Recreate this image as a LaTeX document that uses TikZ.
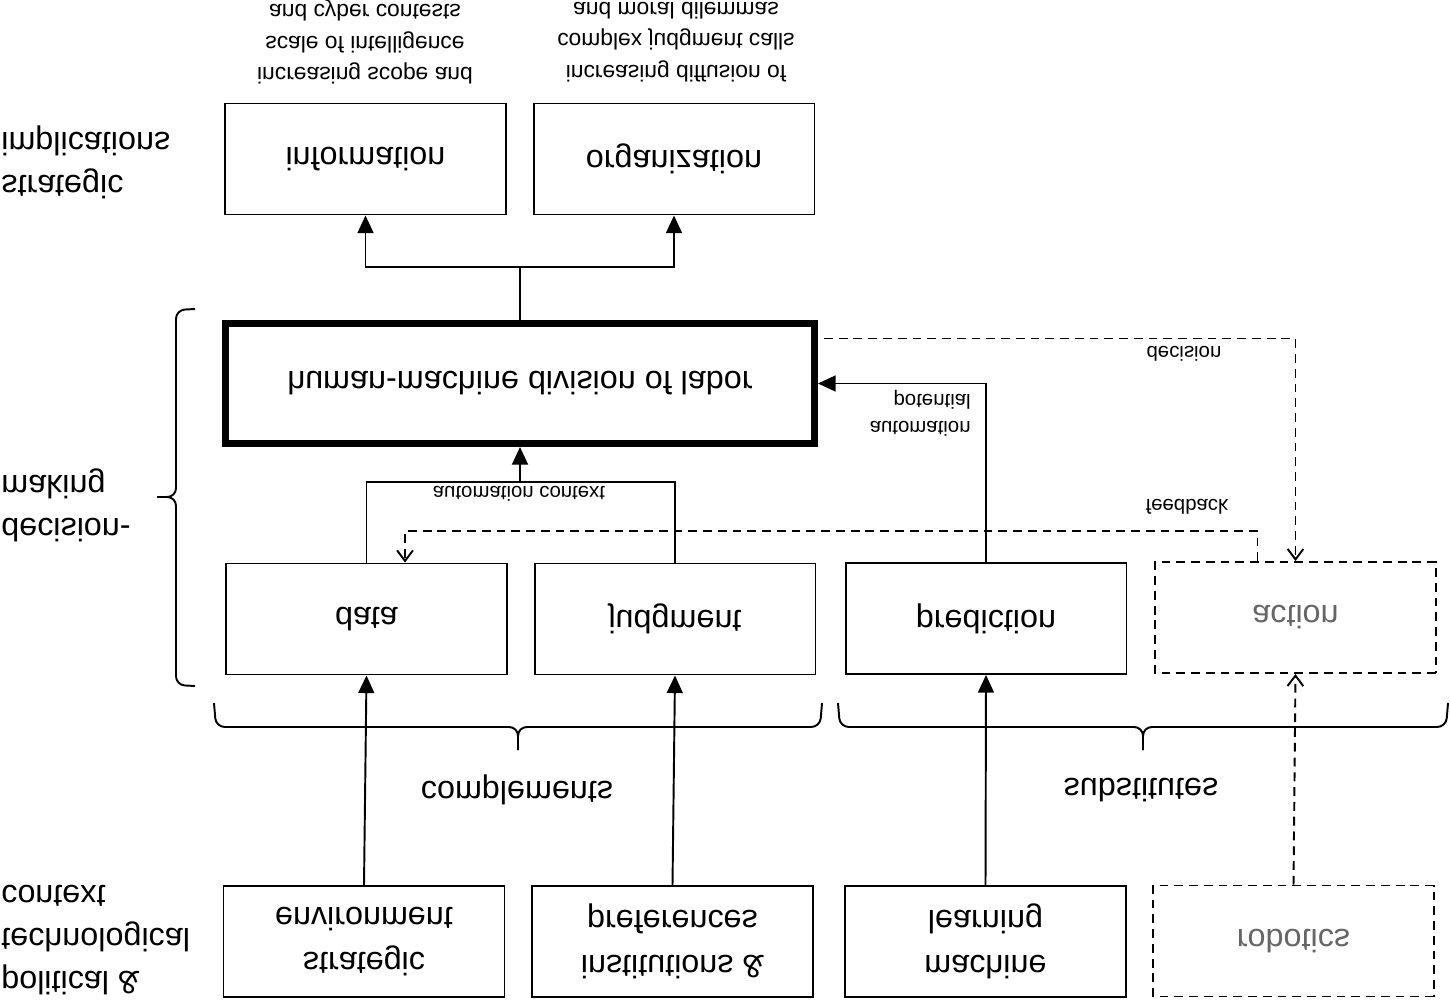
\documentclass[tikz,border=0pt]{standalone}
\usepackage{fontspec}
\setmainfont{Liberation Sans}
\usetikzlibrary{arrows.meta,calc}

\tikzset{
  box/.style={draw, line width=1.1pt, minimum width=5.62cm, minimum height=2.22cm, align=center, font=\fontsize{18.4}{25.5}\selectfont},
  ghost/.style={box, dash pattern=on 5pt off 3.4pt, text=black!60},
  hub/.style={box, line width=4pt, minimum width=11.78cm, minimum height=2.4cm},
  side/.style={anchor=west, inner sep=0pt, align=left, font=\fontsize{18.4}{24.4}\selectfont},
  big/.style={inner sep=0pt, font=\fontsize{18.4}{24.4}\selectfont},
  note/.style={align=center, inner sep=0pt, font=\fontsize{13}{17.9}\selectfont},
  tag/.style={inner sep=0pt, font=\fontsize{11.6}{15.3}\selectfont},
  flow/.style={line width=1.1pt, -{Triangle[length=10pt,width=9pt]}},
  dflow/.style={line width=1.1pt, dash pattern=on 5pt off 3.4pt, -{Straight Barb[length=6pt,width=9pt]}},
  curly/.style={line width=1.1pt, rounded corners=5pt},
}

\begin{document}
\begin{tikzpicture}[x=0.02cm, y=-0.02cm, every node/.append style={yscale=-1}]
  \useasboundingbox (0,0) rectangle (1450,1001);

  \node[box] (info) at (365.5,159) {information};
  \node[box] (org) at (674,159) {organization};
  \node[hub] (hm) at (520,383.5) {human-machine division of labor};
  \node[box] (data) at (366.5,619) {data};
  \node[box] (judg) at (675,619) {judgment};
  \node[box] (pred) at (986,618.5) {prediction};
  \node[ghost] (act) at (1295.5,617.5) {action};
  \node[box] (env) at (364,941.5) {strategic\\environment};
  \node[box] (inst) at (672.5,941.5) {institutions \&\\preferences};
  \node[box] (ml) at (985.5,941.5) {machine\\learning};
  \node[ghost] (rob) at (1293.5,941) {robotics};

  \node[side] (stratimp) at (1,162) {strategic\\implications};
  \node[side] (decmak) at (1,505) {decision-\\making};
  \node[side] (polctx) at (1,940) {political \&\\technological\\context};

  \node[note] (infonote) at (365,42) {increasing scope and\\scale of intelligence\\and cyber contests};
  \node[note] (orgnote) at (676,42) {increasing diffusion of\\complex judgment calls\\and moral dilemmas};

  \draw[flow] (hm.south) -- ++(0,-53) coordinate (split) -| (info.north);
  \draw[flow] (split) -| (org.north);

  \draw[line width=1.1pt] (data.south) -- ++(0,-81) -| (judg.south);
  \coordinate (ctx) at ($(hm.north)+(0,34)$);
  \draw[flow] (ctx) -- (hm.north);
  \node[tag] (ctxlab) at (519,494) {automation context};

  \draw[flow] (pred.south) |- (hm.east);
  \node[tag, anchor=east, align=right] (potlab) at (971,413) {automation\\potential};

  \draw[dflow] ($(hm.east)+(6,-45)$) -| (act.south);
  \node[tag] (declab) at (1184,354) {decision};
  \draw[dflow] ($(act.south)+(-38,0)$) -- ++(0,-30) -| ($(data.south)+(38.5,0)$);
  \node[tag] (fblab) at (1187,507) {feedback};

  \draw[flow] (env.south) -- (data.north);
  \draw[flow] (inst.south) -- (judg.north);
  \draw[flow] (ml.south) -- (pred.north);
  \draw[dflow] (rob.south) -- (act.north);

  \draw[curly] (195,309) -- (176,310) -- (176,497) -- (157,497);
  \draw[curly] (195,686) -- (176,685) -- (176,497) -- (157,497);
  \draw[curly] (214,703) -- (216,727) -- (518,727) -- (518,750);
  \draw[curly] (822,703) -- (820,727) -- (518,727) -- (518,750);
  \draw[curly] (838,703) -- (840,727) -- (1143,727) -- (1143,750);
  \draw[curly] (1448,703) -- (1446,727) -- (1143,727) -- (1143,750);
  \node[big] (comp) at (517,790) {complements};
  \node[big] (subst) at (1141,790) {substitutes};
\end{tikzpicture}
\end{document}
